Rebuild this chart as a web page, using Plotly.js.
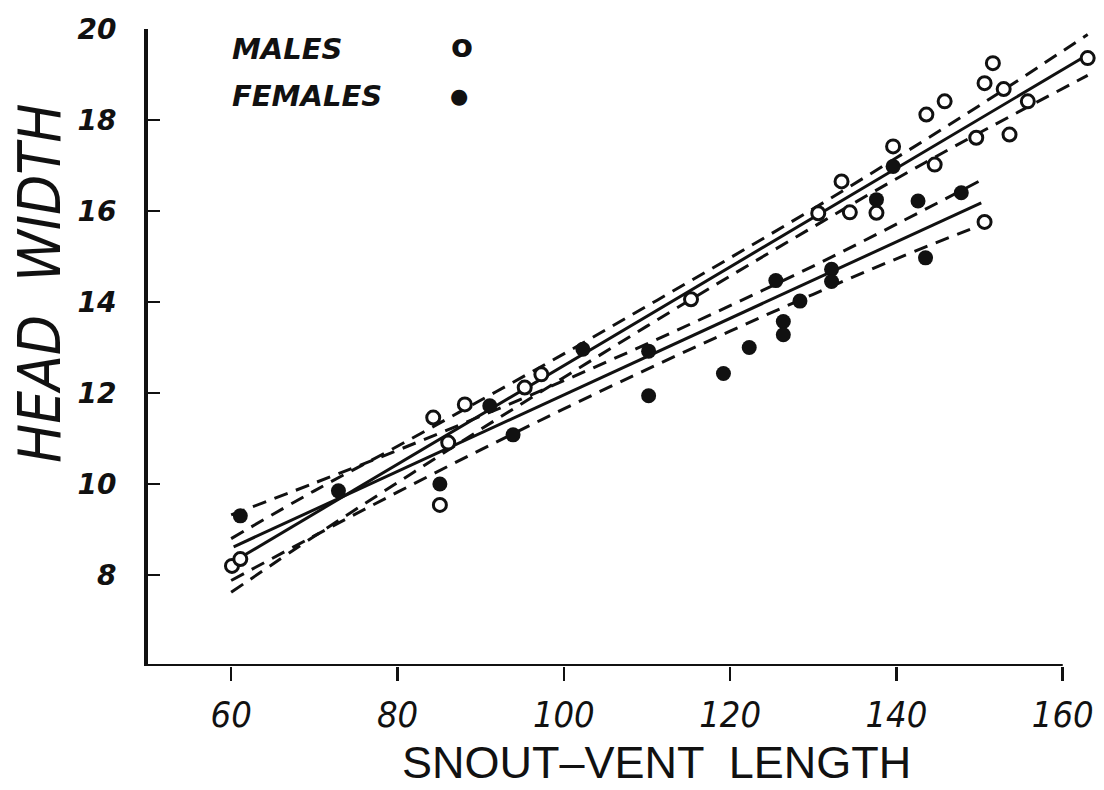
<!DOCTYPE html>
<html>
<head>
<meta charset="utf-8">
<script src="https://cdn.plot.ly/plotly-3.0.1.min.js"></script>
<style>html,body{margin:0;padding:0;background:#fff;}#chart{width:1104px;height:790px;}</style>
</head>
<body>
<div id="chart"></div>
<script>
// ---- data ----
const maleX = [60.1, 61.1, 84.3, 85.1, 86.1, 88.1, 95.3, 97.3, 115.3, 130.6, 133.4, 134.4, 137.6, 139.6, 143.6, 144.6, 145.8, 149.6, 150.6, 150.6, 151.6, 152.9, 153.6, 155.8, 163.0];
const maleY = [8.20, 8.35, 11.46, 9.54, 10.91, 11.75, 12.12, 12.41, 14.06, 15.95, 16.65, 15.97, 15.96, 17.42, 18.12, 17.02, 18.41, 17.61, 18.81, 15.76, 19.25, 18.68, 17.68, 18.41, 19.36];

const femaleX = [61.1, 72.9, 85.1, 91.1, 93.9, 102.3, 110.2, 110.2, 119.2, 122.3, 125.5, 126.4, 126.4, 128.4, 132.2, 132.2, 137.6, 139.6, 142.6, 143.5, 147.8];
const femaleY = [9.30, 9.85, 10.00, 11.72, 11.08, 12.96, 12.92, 11.94, 12.43, 13.00, 14.47, 13.57, 13.28, 14.02, 14.72, 14.45, 16.25, 16.98, 16.22, 14.97, 16.40];

// regression lines (end points)
const maleFitX = [60.6, 162.6];
const maleFitY = [8.33, 19.39];
const femaleFitX = [60.3, 150.2];
const femaleFitY = [8.62, 16.18];

// confidence bands (dashed)
const maleBandX = [60, 70, 80, 90, 100, 110, 120, 130, 140, 150, 163];
const maleBandUp = [8.80, 9.85, 10.83, 11.84, 12.86, 13.91, 14.97, 16.05, 17.17, 18.32, 19.88];
const maleBandLo = [7.62, 8.85, 10.03, 11.20, 12.34, 13.47, 14.57, 15.65, 16.71, 17.72, 18.98];

const femaleBandX = [60, 70, 80, 90, 100, 110, 120, 130, 140, 150];
const femaleBandUp = [9.32, 10.02, 10.74, 11.49, 12.27, 13.08, 13.92, 14.79, 15.71, 16.66];
const femaleBandLo = [7.88, 8.86, 9.82, 10.75, 11.65, 12.52, 13.36, 14.17, 14.95, 15.68];

const xTicks = [60, 80, 100, 120, 140, 160];
const yTicks = [8, 10, 12, 14, 16, 18, 20];
const legendLabels = ["MALES", "FEMALES"];
const xTitle = "SNOUT\u2013VENT  LENGTH";
const yTitle = "HEAD  WIDTH";

const INK = "#111";
const narrow = "Liberation Sans Narrow, DejaVu Sans Condensed, Roboto Condensed, sans-serif";

function dashed(x, y) {
  return {x: x, y: y, mode: "lines", type: "scatter", showlegend: false, hoverinfo: "skip",
          line: {color: INK, width: 3, dash: "14px,9px", shape: "spline"}};
}
function solid(x, y) {
  return {x: x, y: y, mode: "lines", type: "scatter", showlegend: false, hoverinfo: "skip",
          line: {color: INK, width: 3}};
}

const traces = [
  dashed(maleBandX, maleBandUp),
  dashed(maleBandX, maleBandLo),
  dashed(femaleBandX, femaleBandUp),
  dashed(femaleBandX, femaleBandLo),
  solid(maleFitX, maleFitY),
  solid(femaleFitX, femaleFitY),
  {x: femaleX, y: femaleY, mode: "markers", type: "scatter", showlegend: false, cliponaxis: false,
   marker: {symbol: "circle", size: 15, color: INK, line: {width: 0}}},
  {x: maleX, y: maleY, mode: "markers", type: "scatter", showlegend: false, cliponaxis: false,
   marker: {symbol: "circle", size: 13, color: "#fff", line: {width: 3, color: INK}}}
];

const xStart = 50;
const xEndAxis = xTicks[xTicks.length - 1];

const layout = {
  width: 1104, height: 790,
  paper_bgcolor: "#fff", plot_bgcolor: "#fff",
  margin: {l: 148, r: 8, t: 29, b: 124},
  showlegend: false,
  xaxis: {
    range: [xStart, 164], showgrid: false, zeroline: false, showline: false,
    tickmode: "array", tickvals: xTicks, ticktext: xTicks.map(String),
    ticks: "outside", ticklen: 14, tickwidth: 2.5, tickcolor: INK,
    ticklabelstandoff: 3,
    tickfont: {family: narrow, size: 36, color: INK, style: "italic"}
  },
  yaxis: {
    range: [6, 20], showgrid: false, zeroline: false,
    showline: true, linecolor: INK, linewidth: 4,
    tickmode: "array", tickvals: yTicks, ticktext: yTicks.map(String),
    ticks: "inside", ticklen: 12, tickwidth: 2, tickcolor: INK,
    ticklabelstandoff: 22,
    tickfont: {family: "DejaVu Sans, sans-serif", size: 28, color: INK, weight: "bold", style: "italic"}
  },
  shapes: [
    {type: "line", xref: "x", yref: "y", x0: xStart, x1: xEndAxis, y0: 6, y1: 6,
     line: {color: INK, width: 4}}
  ],
  annotations: [
    {text: yTitle, xref: "paper", yref: "paper", x: -0.114, y: 0.601, showarrow: false,
     textangle: -90, xanchor: "center", yanchor: "middle",
     font: {family: narrow, size: 58, color: INK, style: "italic"}},
    {text: xTitle, xref: "paper", yref: "paper", x: 0.536, y: -0.151, showarrow: false,
     xanchor: "center", yanchor: "middle",
     font: {family: "Liberation Sans, Arial, sans-serif", size: 45, color: INK}},
    {text: legendLabels[0], xref: "paper", yref: "paper", x: 0.087, y: 0.968, showarrow: false,
     xanchor: "left", yanchor: "middle",
     font: {family: "DejaVu Sans, sans-serif", size: 29, color: INK, weight: "bold", style: "italic"}},
    {text: legendLabels[1], xref: "paper", yref: "paper", x: 0.087, y: 0.895, showarrow: false,
     xanchor: "left", yanchor: "middle",
     font: {family: "DejaVu Sans, sans-serif", size: 29, color: INK, weight: "bold", style: "italic"}},
    {text: "o", xref: "paper", yref: "paper", x: 0.331, y: 0.974, showarrow: false,
     xanchor: "center", yanchor: "middle",
     font: {family: "DejaVu Sans, sans-serif", size: 32, color: INK, weight: "bold"}},
    {text: "\u25CF", xref: "paper", yref: "paper", x: 0.328, y: 0.895, showarrow: false,
     xanchor: "center", yanchor: "middle",
     font: {family: "DejaVu Sans, sans-serif", size: 21, color: INK}}
  ]
};

Plotly.newPlot("chart", traces, layout, {displayModeBar: false, staticPlot: true});
</script>
</body>
</html>
